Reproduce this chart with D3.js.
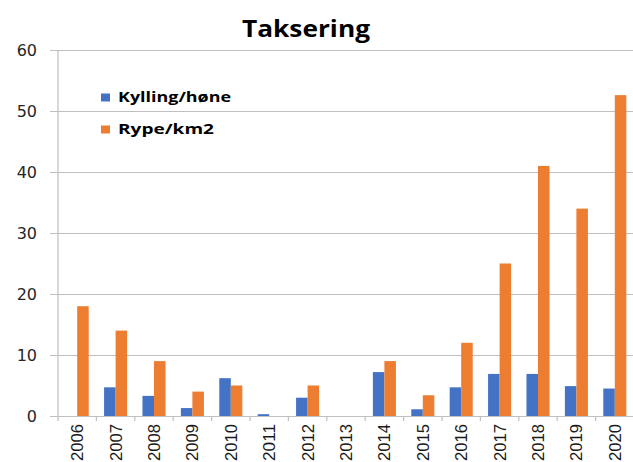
<!DOCTYPE html>
<html><head><meta charset="utf-8">
<script src="https://cdn.jsdelivr.net/npm/d3@7"></script>
<style>body{margin:0;background:#fff}svg{display:block}</style>
</head><body>
<script>
const years = ["2006","2007","2008","2009","2010","2011","2012","2013","2014","2015","2016","2017","2018","2019","2020"];
const kylling = [0,4.7,3.3,1.3,6.2,0.3,3.0,0,7.2,1.1,4.7,6.9,6.9,4.9,4.5];
const rype = [18,14,9,4,5,0,5,0,9,3.4,12,25,41,34,52.6];
const yTicks = [0,10,20,30,40,50,60];
const seriesNames = ["Kylling/høne","Rype/km2"];
const colors = ["#4472C4","#ED7D31"];

const W=633,H=462;
const svg=d3.select("body").append("svg").attr("width",W).attr("height",H);
const pL=58,pR=634,pT=50,pB=416;
const y=d3.scaleLinear().domain([0,60]).range([pB,pT]);
const x0=d3.scaleBand().domain(years).range([pL,pR]).paddingInner(0).paddingOuter(0);
const bw=x0.bandwidth();
const x1=d3.scaleBand().domain(["k","r"]).range([bw*0.2,bw*0.8]);

// gridlines + y tick marks
const yAxis=d3.axisLeft(y).tickValues(yTicks).tickSize(-(pR-pL)).tickFormat(d3.format("d"));
const gy=svg.append("g").attr("transform",`translate(${pL},0)`).call(yAxis);
gy.select(".domain").remove();
gy.selectAll(".tick line").attr("stroke","#bfbfbf").attr("stroke-width",1.2).attr("x1",-8);
gy.selectAll(".tick text").attr("x",-21).attr("dy","0.36em")
  .attr("font-family","DejaVu Sans").attr("font-size",16).attr("fill","#262626")
  .attr("text-anchor","end");
// left axis line
svg.append("line").attr("x1",pL).attr("x2",pL).attr("y1",pT).attr("y2",pB+5)
  .attr("stroke","#bfbfbf").attr("stroke-width",1.2);

// bars
const data=years.map((yr,i)=>({yr,vals:[{k:"k",v:kylling[i],c:colors[0]},{k:"r",v:rype[i],c:colors[1]}]}));
const g=svg.append("g");
g.selectAll("g").data(data).join("g").attr("transform",d=>`translate(${x0(d.yr)},0)`)
  .selectAll("rect").data(d=>d.vals).join("rect")
  .attr("x",d=>x1(d.k)).attr("width",x1.bandwidth())
  .attr("y",d=>y(d.v)).attr("height",d=>y(0)-y(d.v)).attr("fill",d=>d.c);

// bottom axis
const xAxis=d3.axisBottom(x0).tickSize(0).tickFormat(d=>d);
const gx=svg.append("g").attr("transform",`translate(0,${pB})`).call(xAxis);
gx.select(".domain").attr("stroke","#bfbfbf").attr("stroke-width",1.2);
gx.selectAll(".tick text").attr("transform","rotate(-90)").attr("x",-8).attr("y",0).attr("dy","0.35em")
  .attr("text-anchor","end").attr("font-family","Liberation Sans").attr("font-size",17)
  .attr("fill","#1a1a1a").attr("textLength",37).attr("lengthAdjust","spacingAndGlyphs");
// category separators
svg.append("g").selectAll("line").data(years.slice(1)).join("line")
  .attr("x1",d=>x0(d)).attr("x2",d=>x0(d)).attr("y1",pB).attr("y2",pB+5)
  .attr("stroke","#bfbfbf").attr("stroke-width",1.2);

// title
svg.append("text").attr("x",306).attr("y",37).attr("text-anchor","middle")
  .attr("font-family","Open Sans").attr("font-weight","bold").attr("font-size",24)
  .attr("fill","#000").attr("textLength",128).attr("lengthAdjust","spacingAndGlyphs").text("Taksering");

// legend
const lg=svg.append("g");
seriesNames.forEach((n,i)=>{
  const yy=93.5+i*32;
  lg.append("rect").attr("x",101).attr("y",yy).attr("width",9).attr("height",8).attr("fill",colors[i]);
  lg.append("text").attr("x",118).attr("y",yy+8.6).attr("font-family","Open Sans").attr("font-weight","bold")
    .attr("font-size",14.5).attr("fill","#000").attr("textLength",i===0?113:96)
    .attr("lengthAdjust","spacingAndGlyphs").text(n);
});
</script>
</body></html>
